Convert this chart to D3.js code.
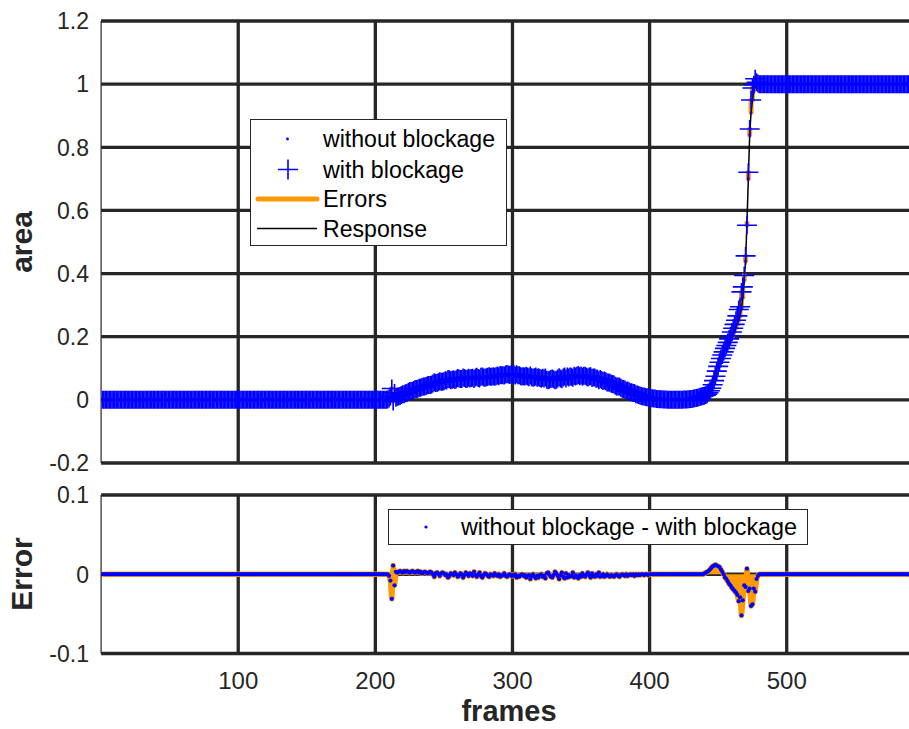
<!DOCTYPE html>
<html>
<head>
<meta charset="utf-8">
<script src="https://cdn.jsdelivr.net/npm/d3@7"></script>
<style>
  body { margin: 0; background: #fff; }
  svg { display: block; font-family: "Liberation Sans", Arial, sans-serif; }
</style>
</head>
<body>
<div id="chart"></div>
<script>
// frames 1..590, "without blockage" area
const withoutBlockage = [
  0,0,0,0,0,0,0,0,0,0,0,0,0,0,0,0,0,0,0,0,
  0,0,0,0,0,0,0,0,0,0,0,0,0,0,0,0,0,0,0,0,
  0,0,0,0,0,0,0,0,0,0,0,0,0,0,0,0,0,0,0,0,
  0,0,0,0,0,0,0,0,0,0,0,0,0,0,0,0,0,0,0,0,
  0,0,0,0,0,0,0,0,0,0,0,0,0,0,0,0,0,0,0,0,
  0,0,0,0,0,0,0,0,0,0,0,0,0,0,0,0,0,0,0,0,
  0,0,0,0,0,0,0,0,0,0,0,0,0,0,0,0,0,0,0,0,
  0,0,0,0,0,0,0,0,0,0,0,0,0,0,0,0,0,0,0,0,
  0,0,0,0,0,0,0,0,0,0,0,0,0,0,0,0,0,0,0,0,
  0,0,0,0,0,0,0,0,0,0,0,0,0,0,0,0,0,0,0,0,
  0,0,0,0,0,0,0,0,0.001,0.002,0.003,0.005,0.006,0.008,0.010,0.012,0.014,0.016,0.018,0.020,
  0.022,0.024,0.026,0.028,0.030,0.031,0.033,0.034,0.036,0.037,0.039,0.040,0.041,0.042,0.044,0.045,0.046,0.047,0.049,0.050,
  0.051,0.052,0.053,0.054,0.055,0.056,0.057,0.058,0.059,0.060,0.061,0.061,0.062,0.063,0.063,0.064,0.064,0.065,0.065,0.066,
  0.066,0.067,0.066,0.067,0.068,0.068,0.067,0.068,0.069,0.069,0.068,0.069,0.070,0.070,0.069,0.070,0.071,0.070,0.070,0.071,
  0.072,0.071,0.072,0.073,0.072,0.073,0.074,0.074,0.075,0.075,0.076,0.076,0.077,0.078,0.078,0.079,0.079,0.079,0.079,0.078,
  0.078,0.077,0.077,0.076,0.075,0.074,0.074,0.073,0.073,0.072,0.072,0.071,0.071,0.070,0.070,0.069,0.069,0.068,0.068,0.068,
  0.067,0.067,0.066,0.066,0.065,0.064,0.063,0.063,0.064,0.064,0.065,0.065,0.066,0.066,0.067,0.067,0.068,0.069,0.069,0.070,
  0.070,0.071,0.071,0.072,0.072,0.073,0.073,0.074,0.074,0.074,0.074,0.074,0.073,0.073,0.073,0.072,0.071,0.070,0.069,0.068,
  0.067,0.066,0.064,0.063,0.061,0.060,0.058,0.057,0.055,0.053,0.051,0.050,0.048,0.046,0.044,0.042,0.040,0.039,0.037,0.035,
  0.033,0.031,0.029,0.028,0.026,0.024,0.023,0.022,0.020,0.018,0.016,0.015,0.013,0.012,0.011,0.010,0.009,0.008,0.007,0.006,
  0.005,0.005,0.004,0.004,0.003,0.003,0.002,0.002,0.002,0.001,0.001,0.001,0,0,0,0,0,0,0,0,
  0,0,0,0,0.001,0.001,0.001,0.002,0.002,0.003,0.003,0.004,0.005,0.006,0.007,0.008,0.010,0.011,0.012,0.014,
  0.017,0.021,0.027,0.035,0.045,0.058,0.072,0.087,0.102,0.116,0.128,0.137,0.145,0.152,0.159,0.166,0.173,0.181,0.189,0.198,
  0.208,0.218,0.229,0.240,0.252,0.266,0.290,0.325,0.380,0.440,0.560,0.700,0.840,0.910,0.950,0.980,0.995,1,1,1,
  1,1,1,1,1,1,1,1,1,1,1,1,1,1,1,1,1,1,1,1,
  1,1,1,1,1,1,1,1,1,1,1,1,1,1,1,1,1,1,1,1,
  1,1,1,1,1,1,1,1,1,1,1,1,1,1,1,1,1,1,1,1,
  1,1,1,1,1,1,1,1,1,1,1,1,1,1,1,1,1,1,1,1,
  1,1,1,1,1,1,1,1,1,1,1,1,1,1,1,1,1,1,1,1,
  1,1,1,1,1,1,1,1,1,1
];

// frames 1..590, without blockage - with blockage
const errorValues = [
  0,0,0,0,0,0,0,0,0,0,0,0,0,0,0,0,0,0,0,0,
  0,0,0,0,0,0,0,0,0,0,0,0,0,0,0,0,0,0,0,0,
  0,0,0,0,0,0,0,0,0,0,0,0,0,0,0,0,0,0,0,0,
  0,0,0,0,0,0,0,0,0,0,0,0,0,0,0,0,0,0,0,0,
  0,0,0,0,0,0,0,0,0,0,0,0,0,0,0,0,0,0,0,0,
  0,0,0,0,0,0,0,0,0,0,0,0,0,0,0,0,0,0,0,0,
  0,0,0,0,0,0,0,0,0,0,0,0,0,0,0,0,0,0,0,0,
  0,0,0,0,0,0,0,0,0,0,0,0,0,0,0,0,0,0,0,0,
  0,0,0,0,0,0,0,0,0,0,0,0,0,0,0,0,0,0,0,0,
  0,0,0,0,0,0,0,0,0,0,0,0,0,0,0,0,0,0,0,0,
  0,0,0,0,0,0,0,0,0,-0.002,-0.008,-0.031,0.011,-0.014,0.003,0.002,0.003,0.004,0.003,0.002,
  0.004,0.003,0.004,0.003,0.002,0.003,0.004,0.003,0.002,0.003,0.004,0.002,0.003,0.001,0.002,0.003,0.002,0.001,0.002,0.003,
  0.002,0,-0.003,0.001,0.002,0,-0.002,0.001,0.002,0.001,-0.001,0,-0.004,-0.002,0.001,0,-0.001,0.002,0,-0.003,
  -0.002,0.001,0,-0.004,-0.001,0.002,0,-0.002,0.001,0,-0.002,0.003,-0.001,-0.003,0,0.002,-0.002,-0.004,-0.001,0.001,
  0,-0.002,-0.003,0,-0.001,-0.002,0.001,-0.001,-0.002,0,-0.003,-0.002,-0.001,0.001,-0.002,-0.003,-0.001,0,-0.002,-0.001,
  -0.002,0,-0.004,-0.002,-0.003,-0.001,0,-0.002,-0.001,-0.004,-0.002,-0.001,-0.006,-0.002,0,-0.003,-0.005,-0.002,-0.004,-0.001,
  0,-0.003,-0.002,-0.005,0.001,0.002,-0.001,-0.003,-0.004,-0.001,0.003,0.001,-0.002,-0.006,-0.001,0.002,-0.003,-0.005,0.001,-0.004,
  -0.001,-0.003,-0.002,0.002,-0.004,-0.001,-0.003,-0.005,-0.001,-0.003,0.001,-0.002,-0.003,0,0.002,-0.002,-0.004,0.001,-0.002,-0.003,
  0,-0.002,0.002,-0.003,-0.002,0,-0.003,-0.002,0,-0.002,-0.003,-0.001,-0.002,-0.003,-0.001,0,-0.002,-0.003,-0.001,0,
  -0.001,-0.002,0,-0.002,-0.001,0,-0.001,0,-0.002,0,-0.001,0,-0.001,0,0,-0.001,0,0,-0.001,0,
  0,0,0,0,0,0,0,0,0,0,0,0,0,0,0,0,0,0,0,0,
  0,0,0,0,0,0,0,0,0,0,0,0,0,0,0,0,0,0,0,0.001,
  0.002,0.003,0.004,0.006,0.008,0.010,0.011,0.012,0.011,0.010,0.009,0.006,0.003,0,-0.004,-0.006,-0.009,-0.012,-0.014,-0.017,
  -0.019,-0.021,-0.023,-0.026,-0.034,-0.029,-0.052,-0.033,-0.014,-0.016,0.007,-0.021,-0.018,-0.040,-0.038,-0.018,-0.022,-0.006,-0.002,0,
  0,0,0,0,0,0,0,0,0,0,0,0,0,0,0,0,0,0,0,0,
  0,0,0,0,0,0,0,0,0,0,0,0,0,0,0,0,0,0,0,0,
  0,0,0,0,0,0,0,0,0,0,0,0,0,0,0,0,0,0,0,0,
  0,0,0,0,0,0,0,0,0,0,0,0,0,0,0,0,0,0,0,0,
  0,0,0,0,0,0,0,0,0,0,0,0,0,0,0,0,0,0,0,0,
  0,0,0,0,0,0,0,0,0,0
];

const xTicks = [100, 200, 300, 400, 500];
const yTicksTop = [-0.2, 0, 0.2, 0.4, 0.6, 0.8, 1, 1.2];
const yTicksBottom = [-0.1, 0, 0.1];
const legendTop = ["without blockage", "with blockage", "Errors", "Response"];
const legendBottom = ["without blockage - with blockage"];

const Width = 909, Height = 729;
const Grid = "#262626", Blue = "#0000ff", Orange = "#ff9a00";

const svg = d3.select("#chart").append("svg")
  .attr("width", Width)
  .attr("height", Height);

const x = d3.scaleLinear().domain([0, 591]).range([101.1, 911.5]);
const yTop = d3.scaleLinear().domain([-0.2, 1.2]).range([463, 21]);
const yBot = d3.scaleLinear().domain([-0.1, 0.1]).range([653.5, 495]);

const data = withoutBlockage.map((v, i) => ({
  f: i + 1,
  without: v,
  err: errorValues[i],
  with: v - errorValues[i]
}));

function drawGrid(y, ticks) {
  const [y0, y1] = y.range();
  const g = svg.append("g");
  g.selectAll("line.v").data(xTicks).join("line")
    .attr("x1", d => x(d)).attr("x2", d => x(d))
    .attr("y1", y1).attr("y2", y0)
    .attr("stroke", Grid).attr("stroke-width", 3.3);
  g.selectAll("line.h").data(ticks).join("line")
    .attr("x1", x(0)).attr("x2", Width)
    .attr("y1", d => y(d)).attr("y2", d => y(d))
    .attr("stroke", Grid).attr("stroke-width", 3.3);
  g.append("line")
    .attr("x1", x(0)).attr("x2", x(0))
    .attr("y1", y1).attr("y2", y0)
    .attr("stroke", Grid).attr("stroke-width", 1.2);
  g.selectAll("text").data(ticks).join("text")
    .attr("x", 89).attr("y", d => y(d)).attr("dy", "0.36em")
    .attr("text-anchor", "end")
    .attr("font-size", 23).attr("fill", Grid)
    .text(d => d);
}

drawGrid(yTop, yTicksTop);
drawGrid(yBot, yTicksBottom);

// clip regions
const defs = svg.append("defs");
defs.append("clipPath").attr("id", "clipTop").append("rect")
  .attr("x", x(0)).attr("y", yTop(1.2)).attr("width", Width - x(0)).attr("height", yTop(-0.2) - yTop(1.2));
defs.append("clipPath").attr("id", "clipBot").append("rect")
  .attr("x", x(0)).attr("y", yBot(0.1)).attr("width", Width - x(0)).attr("height", yBot(-0.1) - yBot(0.1));

// ---- top plot ----
const topG = svg.append("g").attr("clip-path", "url(#clipTop)");

topG.selectAll("line.err").data(data.filter(d => d.err !== 0)).join("line")
  .attr("x1", d => x(d.f)).attr("x2", d => x(d.f))
  .attr("y1", d => yTop(d.without)).attr("y2", d => yTop(d.with))
  .attr("stroke", Orange).attr("stroke-width", 5).attr("stroke-linecap", "round");

topG.append("path")
  .datum(data)
  .attr("fill", "none").attr("stroke", "#000").attr("stroke-width", 1.5)
  .attr("d", d3.line().x(d => x(d.f)).y(d => yTop(d.without)));

topG.selectAll("path.plus").data(data).join("path")
  .attr("d", d => `M${x(d.f) - 10},${yTop(d.with)}h20M${x(d.f)},${yTop(d.with) - 9}v18`)
  .attr("stroke", Blue).attr("stroke-width", 1.6).attr("fill", "none");

topG.selectAll("circle").data(data).join("circle")
  .attr("cx", d => x(d.f)).attr("cy", d => yTop(d.without))
  .attr("r", 1.3).attr("fill", Blue);

// ---- bottom plot ----
const botG = svg.append("g").attr("clip-path", "url(#clipBot)");

botG.append("path")
  .datum(data)
  .attr("fill", Orange)
  .attr("d", d3.area().x(d => x(d.f)).y0(yBot(0)).y1(d => yBot(d.err)));

botG.append("path")
  .datum(data)
  .attr("fill", "none").attr("stroke", Orange).attr("stroke-width", 5.5)
  .attr("stroke-linejoin", "round")
  .attr("d", d3.line().x(d => x(d.f)).y(d => yBot(d.err)));

botG.selectAll("circle").data(data).join("circle")
  .attr("cx", d => x(d.f)).attr("cy", d => yBot(d.err))
  .attr("r", 2.1).attr("fill", Blue);

// x tick labels
svg.append("g").selectAll("text").data(xTicks).join("text")
  .attr("x", d => x(d)).attr("y", 680).attr("dy", "0.36em")
  .attr("text-anchor", "middle")
  .attr("font-size", 24).attr("fill", Grid)
  .text(d => d);

// axis titles
svg.append("text")
  .attr("transform", "translate(32,242) rotate(-90)")
  .attr("text-anchor", "middle")
  .attr("font-size", 30).attr("font-weight", "bold").attr("fill", Grid)
  .text("area");

svg.append("text")
  .attr("transform", "translate(32,574) rotate(-90)")
  .attr("text-anchor", "middle")
  .attr("font-size", 30).attr("font-weight", "bold").attr("fill", Grid)
  .text("Error");

svg.append("text")
  .attr("x", 509).attr("y", 721)
  .attr("text-anchor", "middle")
  .attr("font-size", 29).attr("font-weight", "bold").attr("fill", Grid)
  .text("frames");

// ---- legends ----
const lg = svg.append("g");
lg.append("rect")
  .attr("x", 250.5).attr("y", 119.5).attr("width", 256).attr("height", 126)
  .attr("fill", "#fff").attr("stroke", Grid).attr("stroke-width", 1);
const rowY = [139, 169.5, 199, 228.5];
const rowLen = [172, 141, 64, 104];
lg.selectAll("text").data(legendTop).join("text")
  .attr("x", 323).attr("y", (d, i) => rowY[i]).attr("dy", "0.36em")
  .attr("font-size", 23).attr("fill", "#000")
  .attr("textLength", (d, i) => rowLen[i]).attr("lengthAdjust", "spacingAndGlyphs")
  .text(d => d);
lg.append("circle").attr("cx", 287.5).attr("cy", rowY[0]).attr("r", 1.4).attr("fill", Blue);
lg.append("path").attr("d", `M278,${rowY[1]}h20M288,${rowY[1] - 10}v20`)
  .attr("stroke", Blue).attr("stroke-width", 1.6);
lg.append("line").attr("x1", 258).attr("x2", 317).attr("y1", rowY[2]).attr("y2", rowY[2])
  .attr("stroke", Orange).attr("stroke-width", 5).attr("stroke-linecap", "round");
lg.append("line").attr("x1", 257).attr("x2", 317).attr("y1", rowY[3]).attr("y2", rowY[3])
  .attr("stroke", "#000").attr("stroke-width", 1.5);

const lb = svg.append("g");
lb.append("rect")
  .attr("x", 388.5).attr("y", 509.5).attr("width", 419).attr("height", 35)
  .attr("fill", "#fff").attr("stroke", Grid).attr("stroke-width", 1);
lb.append("circle").attr("cx", 426).attr("cy", 527).attr("r", 1.6).attr("fill", Blue);
lb.append("text").data(legendBottom)
  .attr("x", 461).attr("y", 527).attr("dy", "0.36em")
  .attr("font-size", 23).attr("fill", "#000")
  .attr("textLength", 336).attr("lengthAdjust", "spacingAndGlyphs")
  .text(d => d);
</script>
</body>
</html>
